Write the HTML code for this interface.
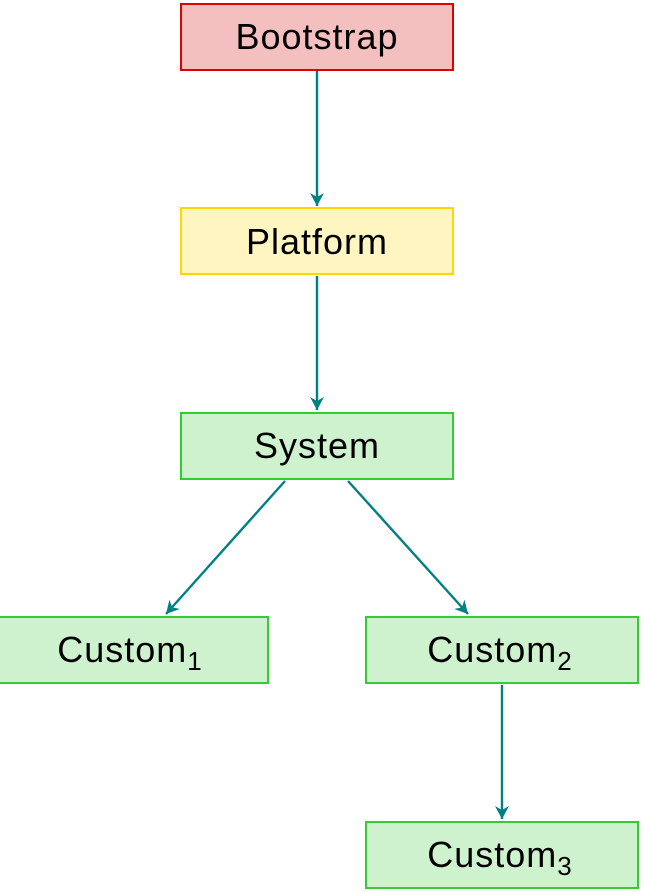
<!DOCTYPE html>
<html><head><meta charset="utf-8"><style>html,body{margin:0;padding:0;background:#fff;width:650px;height:892px;overflow:hidden}</style></head>
<body>
<svg width="650" height="892" viewBox="0 0 650 892" xmlns="http://www.w3.org/2000/svg">
<defs>
<marker id="a" markerWidth="16" markerHeight="16" refX="13" refY="8" orient="auto" markerUnits="userSpaceOnUse">
<path d="M0,1 L13,8 L0,15 L4,8 Z" fill="#008080"/>
</marker>
</defs>
<g stroke="#008080" stroke-width="2.4" fill="none" marker-end="url(#a)">
<line x1="317" y1="71" x2="317" y2="206"/>
<line x1="317" y1="276" x2="317" y2="410"/>
<line x1="285" y1="481" x2="166" y2="614"/>
<line x1="348" y1="481" x2="468" y2="614"/>
<line x1="502" y1="685" x2="502" y2="819"/>
</g>
<g stroke-width="2">
<rect x="181" y="4" width="272" height="66" fill="#f4bfbf" stroke="#e00000"/>
<rect x="181" y="208" width="272" height="66" fill="#fff5c0" stroke="#ffd700"/>
<rect x="181" y="413" width="272" height="66" fill="#cdf2cd" stroke="#33cc33"/>
<rect x="-1" y="617" width="269" height="66" fill="#cdf2cd" stroke="#33cc33"/>
<rect x="366" y="617" width="272" height="66" fill="#cdf2cd" stroke="#33cc33"/>
<rect x="366" y="822" width="272" height="66" fill="#cdf2cd" stroke="#33cc33"/>
</g>
<g font-family="Liberation Sans, sans-serif" font-size="36" fill="#000" text-anchor="middle" letter-spacing="1">
<text x="317" y="49">Bootstrap</text>
<text x="317" y="254">Platform</text>
<text x="317" y="458">System</text>
<text x="130" y="662">Custom<tspan font-size="26" dy="8">1</tspan></text>
<text x="500" y="662">Custom<tspan font-size="26" dy="8">2</tspan></text>
<text x="500" y="867">Custom<tspan font-size="26" dy="8">3</tspan></text>
</g>
</svg>
</body></html>
